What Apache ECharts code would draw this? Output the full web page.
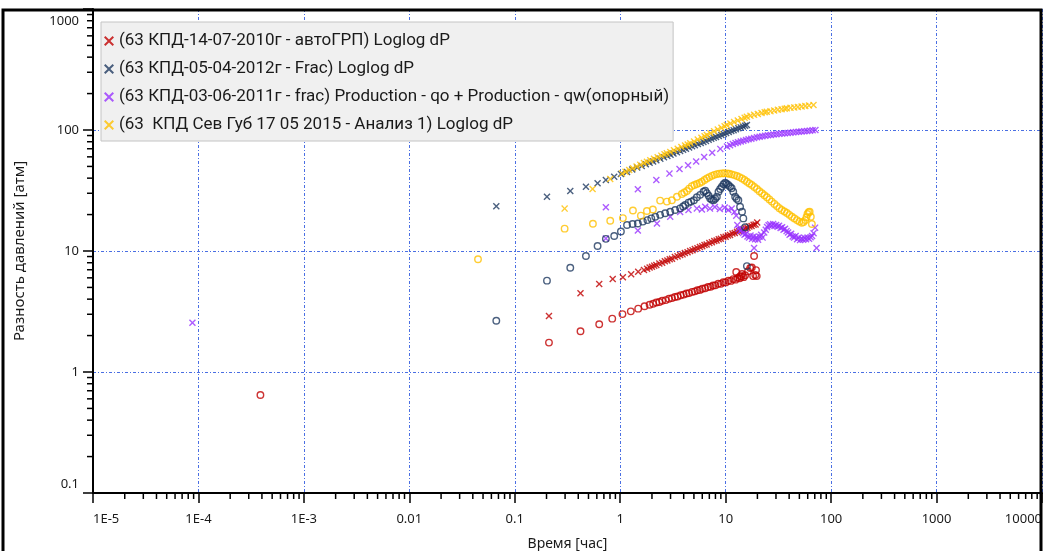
<!DOCTYPE html>
<html>
<head>
<meta charset="utf-8">
<script src="https://cdn.jsdelivr.net/npm/echarts/dist/echarts.min.js"></script>
<style>
  html, body { margin: 0; padding: 0; background: #ffffff; }
  #chart { width: 1044px; height: 551px; }
</style>
</head>
<body>
<div id="chart"></div>
<script>
// ---- Tick labels ----
const xTickLabels = ['1E-5', '1E-4', '1E-3', '0.01', '0.1', '1', '10', '100', '1000', '10000'];
const yTickLabels = ['0.1', '1', '10', '100', '1000'];

// ---- Legend names ----
const seriesNames = [
  '(63 КПД-14-07-2010г - автоГРП) Loglog dP',
  '(63 КПД-05-04-2012г - Frac) Loglog dP',
  '(63 КПД-03-06-2011г - frac) Production - qo + Production - qw(опорный)',
  '(63  КПД Сев Губ 17 05 2015 - Анализ 1) Loglog dP'
];

// ---- Data: [time, hours ; pressure difference, atm] ----
// Well test 2010: derivative (x) and pressure change (o)
const redCross = [
  [0.211,2.90],[0.420,4.47],[0.632,5.34],[0.849,5.87],[1.06,6.06],[1.27,6.42],[1.48,6.74],[1.68,6.97],
  [1.8,7.12],[1.9,7.30],[2.0,7.40],[2.1,7.57],[2.2,7.65],[2.35,7.88],[2.5,8.01],[2.65,8.22],[2.8,8.35],
  [2.95,8.55],[3.1,8.64],[3.3,8.90],[3.5,9.03],[3.7,9.27],[3.9,9.38],[4.1,9.61],[4.35,9.76],[4.6,10.02],
  [4.85,10.15],[5.1,10.40],[5.4,10.53],[5.7,10.81],[6.0,10.95],[6.3,11.20],[6.6,11.33],[7.0,11.64],
  [7.4,11.79],[7.8,12.10],[8.2,12.23],[8.6,12.52],[9.0,12.65],[9.5,12.98],[10.0,13.14],[10.5,13.45],
  [11.0,13.58],[11.6,13.94],[12.2,14.10],[12.8,14.44],[13.4,14.58],[14.0,14.91],[14.7,15.06],[15.4,15.42],
  [16.1,15.56],[16.8,15.92],[17.6,16.06],[18.4,16.45],[19.2,16.58],[19.9,17.2]
];
const redRing = [
  [0.000387,0.645],[0.211,1.75],[0.420,2.17],[0.632,2.48],[0.84,2.76],[1.05,3.01],[1.26,3.17],[1.48,3.34],
  [1.70,3.49],[1.90,3.60],[2.05,3.67],[2.2,3.75],[2.35,3.79],[2.5,3.88],[2.7,3.93],[2.9,4.03],[3.1,4.08],
  [3.3,4.17],[3.5,4.21],[3.75,4.31],[4.0,4.36],[4.25,4.45],[4.5,4.49],[4.8,4.59],[5.1,4.64],[5.4,4.74],
  [5.7,4.77],[6.0,4.88],[6.4,4.92],[6.8,5.04],[7.2,5.06],[7.6,5.19],[8.0,5.20],[8.5,5.36],[9.0,5.35],
  [9.5,5.52],[10.0,5.50],[10.6,5.68],[11.2,5.66],[11.8,5.86],[12.4,5.80],[12.6,6.7],[13.0,6.00],[13.6,5.95],
  [13.7,6.2],[14.2,6.15],[14.3,6.45],[14.8,6.08],[15.3,6.3],[16.3,6.8],[17.1,7.24],[17.7,7.3],[18.2,6.2],
  [18.6,9.1],[19.1,6.34],[19.4,6.95],[19.7,6.2]
];

// Well test 2012
const navyCross = [
  [0.0668,23.4],[0.202,28.1],[0.336,31.3],[0.473,34.0],[0.610,36.3],[0.731,38.6],[0.877,41.1],[1.015,43.3],
  [1.16,44.9],[1.3,47.1],[1.45,48.9],[1.6,50.5],[1.75,52.1],[1.9,53.6],[2.05,55.0],[2.2,56.3],[2.4,58.0],
  [2.6,59.6],[2.8,61.1],[3.0,62.5],[3.2,63.9],[3.45,65.6],[3.7,67.1],[3.95,68.6],[4.2,70.1],[4.5,71.7],
  [4.8,73.3],[5.1,74.8],[5.45,76.5],[5.8,78.2],[6.15,79.7],[6.5,81.3],[6.9,82.9],[7.3,84.5],[7.7,86.1],
  [8.1,87.5],[8.6,89.3],[9.1,91.1],[9.6,92.7],[10.1,94.4],[10.7,96.2],[11.3,98.0],[11.9,99.7],[12.5,101.4],
  [13.2,103.3],[13.9,105.1],[14.6,106.9],[15.3,108.6],[15.9,110]
];
const navyRing = [
  [0.0668,2.65],[0.202,5.69],[0.336,7.28],[0.473,9.10],[0.610,11.0],[0.731,12.6],[0.877,13.3],[1.015,14.5],
  [1.16,16.4],[1.31,16.7],[1.47,16.9],[1.64,17.5],[1.81,18.0],[1.97,18.6],[2.15,19.2],[2.39,19.9],[2.67,20.5],
  [2.98,21.1],[3.32,21.8],[3.70,22.5],[3.95,23.3],[4.13,24.0],[4.44,25.1],[4.7,25.6],[5.0,26.3],[5.33,27.8],
  [5.73,29.1],[6.16,30.9],[6.4,31.5],[6.63,30.1],[6.9,28.6],[7.13,27.2],[7.4,26.5],[7.68,26.3],[7.95,27.0],
  [8.25,28.1],[8.55,30.9],[8.87,32.5],[9.2,34.0],[9.55,35.6],[9.89,36.7],[10.2,36.0],[10.6,35.1],[11.0,34.0],
  [11.4,33.0],[11.8,30.9],[12.3,28.1],[12.7,27.0],[13.2,26.3],[13.7,23.2],[14.3,21.1],[14.7,18.6],[15.3,15.7],
  [15.9,7.5]
];

// Reference production history 2011 (x only)
const purpleCross = [
  [0.0000877,2.55],[0.731,23.0],[1.47,32.4],[2.2,38.6],[2.93,43.6],[3.65,47.6],[4.4,51.2],[5.25,55.0],
  [6.25,59.8],[7.45,64.8],[8.9,69.8],[10.3,73.0],[11.0,74.9],[11.7,76.6],[12.4,78.0],[13.1,79.3],[13.9,80.5],
  [14.7,81.6],[15.6,82.7],[16.5,83.7],[17.5,84.8],[18.6,86.0],[19.8,87.0],[21,88.0],[22.3,88.9],[23.7,89.7],
  [25.2,90.4],[26.8,91.1],[28.5,91.7],[30.3,92.3],[32.2,92.9],[34.2,93.5],[36.4,94.0],[38.7,94.6],[41.1,95.1],
  [43.7,95.6],[46.4,96.1],[49.3,96.6],[52.4,97.1],[55.7,97.7],[59.2,98.2],[62.9,98.8],[66.8,99.4],[71,100.2],
  [0.731,12.7],[1.47,14.8],[2.23,16.9],[2.98,19.2],[3.70,21.0],[4.44,21.8],[5.33,22.5],[5.95,22.0],[6.4,23.2],
  [7.1,22.4],[7.9,23.1],[8.8,22.2],[9.8,22.9],[10.6,21.8],[11.4,22.4],[12.1,21.0],[12.6,19.6],[12.9,16.4],
  [13.3,15.3],[13.7,14.6],[14.2,15.0],[14.6,14.1],[15.1,13.6],[15.6,13.9],[16.1,13.2],[16.7,12.9],[17.2,13.4],
  [17.8,12.6],[18.4,13.2],[18.6,10.6],[19.0,12.5],[19.6,13.0],[20.3,12.4],[21.0,13.1],[21.7,13.6],[22.4,12.9],
  [23.2,14.2],[24.0,15.0],[24.7,15.8],[25.5,16.3],[26.4,16.6],[27.3,16.2],[28.2,16.7],[29.1,16.1],[30.1,16.4],
  [31.1,15.9],[32.1,16.2],[33.2,15.5],[34.3,15.7],[35.4,15.0],[36.6,15.3],[37.8,14.6],[39.1,14.2],[40.4,13.6],
  [41.8,13.9],[43.2,13.2],[44.6,12.9],[46.1,13.3],[47.6,12.5],[49.2,12.9],[50.8,12.3],[52.5,12.7],[54.3,12.4],
  [56.1,12.8],[57.9,12.5],[59.8,12.9],[61.8,12.6],[63.9,13.0],[66.0,13.3],[68.2,14.0],[70.5,15.6],[72.8,10.6]
];

// Well test 2015
const yellowCross = [
  [0.297,22.4],[0.547,32.5],[0.804,39.4],[1.04,43.6],[1.122,45.2],[1.216,46.7],[1.318,48.3],[1.429,49.9],
  [1.549,51.5],[1.679,53.3],[1.791,54.7],[1.928,56.2],[2.089,57.8],[2.265,59.6],[2.455,61.4],[2.630,63.0],
  [2.767,64.1],[2.985,65.9],[3.236,67.9],[3.508,70.0],[3.802,72.3],[4.121,74.5],[4.365,76.0],[4.613,77.6],
  [5.012,80.5],[5.433,83.4],[5.888,86.3],[6.310,88.9],[6.637,91.0],[7.161,94.0],[7.762,97.5],[8.414,100.9],
  [9.120,104.5],[9.772,107.6],[10.26,109.9],[11.09,113.0],[12.02,116.4],[13.03,119.9],[14.13,123.3],
  [15.14,126.5],[15.89,128.8],[17.18,130.9],[18.62,133.4],[20.18,135.8],[21.88,138.0],[23.44,140.3],
  [24.55,141.6],[26.61,143.2],[28.84,144.9],[31.26,146.9],[33.88,148.6],[36.31,150.0],[38.02,151.0],
  [41.21,152.4],[44.67,153.8],[48.42,155.2],[52.48,156.7],[56.89,157.8],[61.66,159.2],[68.08,161.1]
];
const yellowRing = [
  [0.0448,8.54],[0.297,15.3],[0.551,16.8],[0.804,17.8],[1.06,18.7],[1.32,21.6],[1.57,19.6],[1.79,21.4],
  [2.04,22.0],[2.39,26.1],[2.77,25.6],[3.09,26.3],[3.45,28.1],[3.84,29.6],[4.05,30.5],[4.29,31.3],[4.5,32.8],
  [4.78,34.4],[5.05,35.1],[5.33,35.8],[5.65,36.5],[5.95,37.3],[6.3,38.6],[6.63,39.8],[7.0,40.8],[7.40,41.8],
  [7.8,42.6],[8.25,43.2],[8.7,43.6],[9.2,43.8],[9.7,43.9],[10.3,43.8],[10.8,43.5],[11.4,43.0],[12.1,42.4],
  [12.8,41.7],[13.5,40.8],[14.3,39.8],[15.1,38.6],[15.9,37.3],[16.8,36.2],[17.7,35.1],[18.7,33.8],[19.8,32.5],
  [20.9,31.2],[22.1,30.0],[23.3,28.9],[24.6,27.8],[26.0,26.7],[27.4,25.6],[29.0,24.5],[30.6,23.5],[32.3,22.6],
  [34.1,21.8],[36.1,21.2],[38.1,20.6],[40.2,19.9],[42.5,19.2],[44.9,18.6],[47.4,18.0],[50.0,17.5],[52.8,17.1],
  [54.8,17.4],[56.9,18.0],[58.4,19.0],[59.7,20.2],[61.2,20.9],[62.6,21.1],[64.2,19.2],[65.7,16.7]
];

// ---- Styling ----
const COLORS = ['#c00000', '#1f3a60', '#9933ff', '#ffc000'];
const FONT = 'Noto Sans';
const CROSS = 'path://M0,1.4L1.4,0L5,3.6L8.6,0L10,1.4L6.4,5L10,8.6L8.6,10L5,6.4L1.4,10L0,8.6L3.6,5Z';

function crossSeries(idx, data) {
  return {
    type: 'scatter', name: seriesNames[idx], data: data,
    symbol: CROSS, symbolSize: 7,
    itemStyle: { color: COLORS[idx] },
    silent: true, animation: false
  };
}
function ringSeries(idx, data) {
  return {
    type: 'scatter', name: seriesNames[idx], data: data,
    symbol: 'circle', symbolSize: 6.5,
    itemStyle: { color: 'rgba(0,0,0,0)', borderColor: COLORS[idx], borderWidth: 1.4 },
    silent: true, animation: false
  };
}

// Minor tick values (2..9 within each decade)
const xMinor = [], yMinor = [];
for (let e = -5; e < 4; e++) for (let k = 2; k <= 9; k++) xMinor.push(k * Math.pow(10, e));
for (let e = -1; e < 3; e++) for (let k = 2; k <= 9; k++) yMinor.push(k * Math.pow(10, e));

function decadeIndex(v) { return Math.round(Math.log10(v)); }

const chart = echarts.init(document.getElementById('chart'), null, { renderer: 'canvas' });

chart.setOption({
  animation: false,
  backgroundColor: '#ffffff',
  grid: { left: 93, right: 2, top: 9, bottom: 58, containLabel: false, outerBoundsMode: 'none' },
  legend: {
    orient: 'vertical', left: 101, top: 22,
    data: seriesNames,
    itemWidth: 10, itemHeight: 10, itemGap: 8,
    padding: [9, 4, 6, 3],
    backgroundColor: '#f0f0f0', borderColor: '#c4c4c4', borderWidth: 1,
    selectedMode: false,
    textStyle: { fontFamily: 'Roboto', fontSize: 17, color: '#1a1a1a', lineHeight: 20 }
  },
  xAxis: {
    type: 'log', logBase: 10, min: 1e-5, max: 1e4,
    name: 'Время [час]', nameLocation: 'middle', nameGap: 44,
    nameTextStyle: { fontFamily: FONT, fontSize: 14, color: '#1a1a1a' },
    axisLine: { show: true, onZero: false, lineStyle: { color: '#000', width: 2 } },
    axisTick: { show: true, length: 10, lineStyle: { color: '#000', width: 1.5 } },
    axisLabel: {
      margin: 20, fontFamily: FONT, fontSize: 13, color: '#1a1a1a',
      alignMinLabel: 'left', alignMaxLabel: 'right',
      formatter: v => xTickLabels[decadeIndex(v) + 5]
    },
    splitLine: { show: true, lineStyle: { color: '#4a6fe3', width: 1, type: [3, 2, 1, 2] } }
  },
  yAxis: {
    type: 'log', logBase: 10, min: 0.1, max: 1000,
    name: 'Разность давлений [атм]', nameLocation: 'middle', nameGap: 66,
    nameTextStyle: { fontFamily: FONT, fontSize: 15, color: '#1a1a1a' },
    axisLine: { show: true, onZero: false, lineStyle: { color: '#000', width: 2 } },
    axisTick: { show: true, length: 10, lineStyle: { color: '#000', width: 1.5 } },
    axisLabel: {
      margin: 14, fontFamily: FONT, fontSize: 13, color: '#1a1a1a',
      formatter: v => {
        const e = decadeIndex(v);
        const s = yTickLabels[e + 1];
        if (e === 3) return '{top|' + s + '}';
        if (e === -1) return '{bot|' + s + '}';
        return s;
      },
      rich: {
        top: { padding: [24, 0, 0, 0], fontFamily: FONT, fontSize: 13, color: '#1a1a1a' },
        bot: { padding: [0, 0, 18, 0], fontFamily: FONT, fontSize: 13, color: '#1a1a1a' }
      }
    },
    splitLine: { show: true, lineStyle: { color: '#4a6fe3', width: 1, type: [3, 2, 1, 2] } }
  },
  graphic: [{
    type: 'rect', silent: true, z: 100,
    shape: { x: 3, y: 10, width: 1038, height: 600 },
    style: { fill: 'none', stroke: '#000', lineWidth: 3 }
  }],
  series: [
    crossSeries(0, redCross),
    crossSeries(1, navyCross),
    crossSeries(2, purpleCross),
    crossSeries(3, yellowCross),
    ringSeries(0, redRing),
    ringSeries(1, navyRing),
    ringSeries(3, yellowRing),
    {
      type: 'custom', coordinateSystem: 'cartesian2d', clip: false, silent: true,
      data: xMinor.map(v => [v, 0.1]),
      renderItem: (params, api) => {
        const p = api.coord([api.value(0), api.value(1)]);
        return { type: 'line', shape: { x1: p[0], y1: p[1], x2: p[0], y2: p[1] + 6 },
                 style: { stroke: '#000', lineWidth: 1.5 } };
      }
    },
    {
      type: 'custom', coordinateSystem: 'cartesian2d', clip: false, silent: true,
      data: yMinor.map(v => [1e-5, v]),
      renderItem: (params, api) => {
        const p = api.coord([api.value(0), api.value(1)]);
        return { type: 'line', shape: { x1: p[0], y1: p[1], x2: p[0] - 6, y2: p[1] },
                 style: { stroke: '#000', lineWidth: 1.5 } };
      }
    }
  ]
});
</script>
</body>
</html>
